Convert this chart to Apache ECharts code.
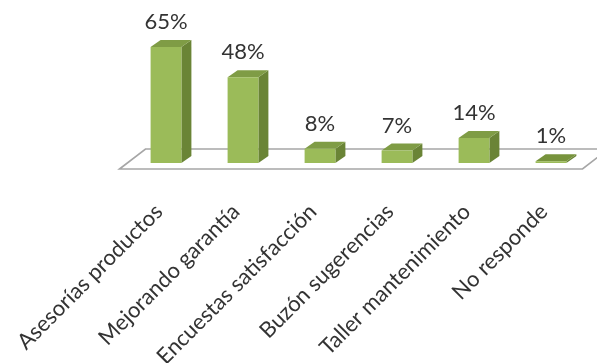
<!DOCTYPE html>
<html>
<head>
<meta charset="utf-8">
<script src="https://cdn.jsdelivr.net/npm/echarts@6/dist/echarts.min.js"></script>
<style>html,body{margin:0;padding:0;background:#fff;}#c{width:597px;height:363px;}</style>
</head>
<body>
<div id="c"></div>
<script>
var categories = ['Asesorías productos', 'Mejorando garantía', 'Encuestas satisfacción', 'Buzón sugerencias', 'Taller mantenimiento', 'No responde'];
var values = [65, 48, 8, 7, 14, 1];
var valueLabels = ['65%', '48%', '8%', '7%', '14%', '1%'];

var FONT = 'Lato';
var chart = echarts.init(document.getElementById('c'), null, {renderer: 'canvas'});

function renderFloor(params, api) {
  var p = api.coord([0, 0]);
  var bw = api.size([1, 0])[0];
  var left = p[0] - bw / 2;
  var right = left + bw * categories.length;
  var y0 = p[1];
  return {
    type: 'polygon',
    shape: {points: [[left - 8, y0 + 6], [left + 18, y0 - 14], [right + 19, y0 - 14], [right - 7, y0 + 6]]},
    style: {fill: '#ffffff', stroke: '#a6a6a6', lineWidth: 1.6},
    z2: 0
  };
}

function renderBar(params, api) {
  var i = api.value(0);
  var v = api.value(1);
  var base = api.coord([i, 0]);
  var top = api.coord([i, v]);
  var bw = api.size([1, 0])[0];
  var w = bw * 0.4;
  var dx = 10, dy = -7;
  var x0 = base[0] - w / 2, x1 = base[0] + w / 2;
  var yb = base[1], yt = top[1];
  return {
    type: 'group',
    children: [
      {type: 'polygon', shape: {points: [[x1, yb], [x1 + dx, yb + dy], [x1 + dx, yt + dy], [x1, yt]]}, style: {fill: '#6a8436'}},
      {type: 'polygon', shape: {points: [[x0, yt], [x0 + dx, yt + dy], [x1 + dx, yt + dy], [x1, yt]]}, style: {fill: v < 3 ? '#77933c' : '#7f9c45'}},
      {type: 'rect', shape: {x: x0, y: yt, width: w, height: yb - yt}, style: {fill: '#9bbb59'}},
      {type: 'text', x: base[0], y: yt - 25, style: {text: valueLabels[params.dataIndex], font: '22px ' + FONT, fill: '#333333', align: 'center', verticalAlign: 'middle'}}
    ]
  };
}

var barData = values.map(function (v, i) { return [i, v]; });

chart.setOption({
  animation: false,
  backgroundColor: '#ffffff',
  grid: {left: 127.5, right: 7.5, top: 38.05, bottom: 200, outerBoundsMode: 'none', containLabel: false},
  xAxis: {
    type: 'category',
    data: categories,
    axisLine: {show: false},
    axisTick: {show: false},
    axisLabel: {interval: 0, rotate: 45, margin: 38, padding: [0, 10, 0, 0], fontFamily: FONT, fontSize: 22, color: '#333333'}
  },
  yAxis: {type: 'value', min: 0, max: 70, show: false},
  series: [
    {type: 'custom', renderItem: renderFloor, data: [[0, 0]], z: 1, silent: true},
    {type: 'custom', renderItem: renderBar, data: barData, z: 2, silent: true}
  ]
});
</script>
</body>
</html>
